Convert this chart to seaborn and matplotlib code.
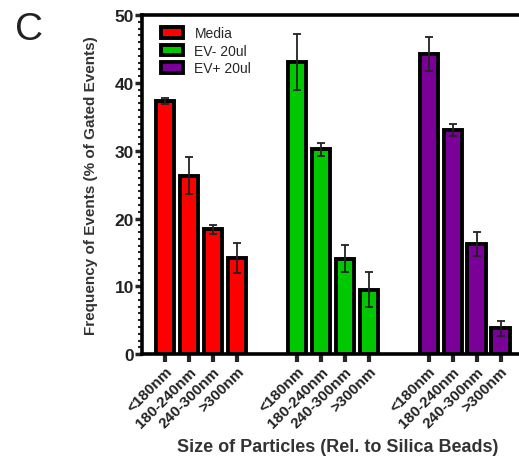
import matplotlib.pyplot as plt
import numpy as np
import pandas as pd
import seaborn as sns
from matplotlib.ticker import MultipleLocator

groups = ["Media", "EV- 20ul", "EV+ 20ul"]
sizes = ["<180nm", "180-240nm", "240-300nm", ">300nm"]
media = [37.3, 26.3, 18.4, 14.2]
media_err = [0.4, 2.7, 0.7, 2.2]
ev_neg = [43.1, 30.2, 14.1, 9.5]
ev_neg_err = [4.1, 1.0, 2.0, 2.6]
ev_pos = [44.2, 33.0, 16.2, 3.8]
ev_pos_err = [2.5, 0.9, 1.8, 1.1]
colors = ["#ff0000", "#00c800", "#7a0099"]

group_start = [0.0, 5.5, 11.0]
values = [media, ev_neg, ev_pos]
errors = [media_err, ev_neg_err, ev_pos_err]

rows = []
for g, start, vals, errs in zip(groups, group_start, values, errors):
    for i, (s, v, e) in enumerate(zip(sizes, vals, errs)):
        rows.append({"pos": start + i, "value": v, "err": e, "group": g, "size": s})
df = pd.DataFrame(rows)

sns.set_style("ticks")
plt.rcParams["font.family"] = ["Liberation Sans", "DejaVu Sans"]

fig = plt.figure(figsize=(5.19, 4.6), dpi=100)
ax = fig.add_axes([0.274, 0.228, 0.755, 0.737])

sns.barplot(
    data=df,
    x="pos",
    y="value",
    hue="group",
    hue_order=groups,
    palette=colors,
    saturation=1,
    native_scale=True,
    width=0.76,
    edgecolor="black",
    linewidth=2.8,
    errorbar=None,
    ax=ax,
)
ax.errorbar(
    df["pos"], df["value"], yerr=df["err"], fmt="none",
    ecolor="#222222", elinewidth=1.3, capsize=3.2, capthick=1.3, zorder=4,
)

ax.set_xlim(-0.96, 15.4)
ax.set_ylim(0, 50)
ax.yaxis.set_major_locator(MultipleLocator(10))
ax.yaxis.set_minor_locator(MultipleLocator(1))
ax.set_xticks(df["pos"])
ax.set_xticklabels(df["size"], rotation=45, ha="right", rotation_mode="anchor",
                   fontsize=11, fontweight="bold", color="#222222")
for lab in ax.get_yticklabels():
    lab.set_fontweight("bold")
    lab.set_fontsize(12.5)
    lab.set_color("#222222")

ax.tick_params(axis="x", length=6, width=3, pad=1)
ax.tick_params(axis="y", which="major", length=5, width=2.5, pad=1)
ax.tick_params(axis="y", which="minor", length=3, width=1.5)

for side in ["left", "bottom", "top", "right"]:
    ax.spines[side].set_visible(True)
    ax.spines[side].set_linewidth(2.6)
    ax.spines[side].set_color("black")

ax.set_xlabel("Size of Particles (Rel. to Silica Beads)", fontsize=13,
              fontweight="bold", color="#333333", labelpad=6)
ax.set_ylabel("Frequency of Events (% of Gated Events)", fontsize=11,
              fontweight="bold", color="#333333", labelpad=12)

ax.legend(loc="upper left", frameon=False, fontsize=10, handlelength=1.6,
          handleheight=0.8, labelspacing=0.25, borderaxespad=0.4,
          bbox_to_anchor=(0.02, 1.0))

fig.text(0.028, 0.975, "C", fontsize=28, va="top", ha="left", color="#222222")

fig.savefig("out.png", dpi=100)
